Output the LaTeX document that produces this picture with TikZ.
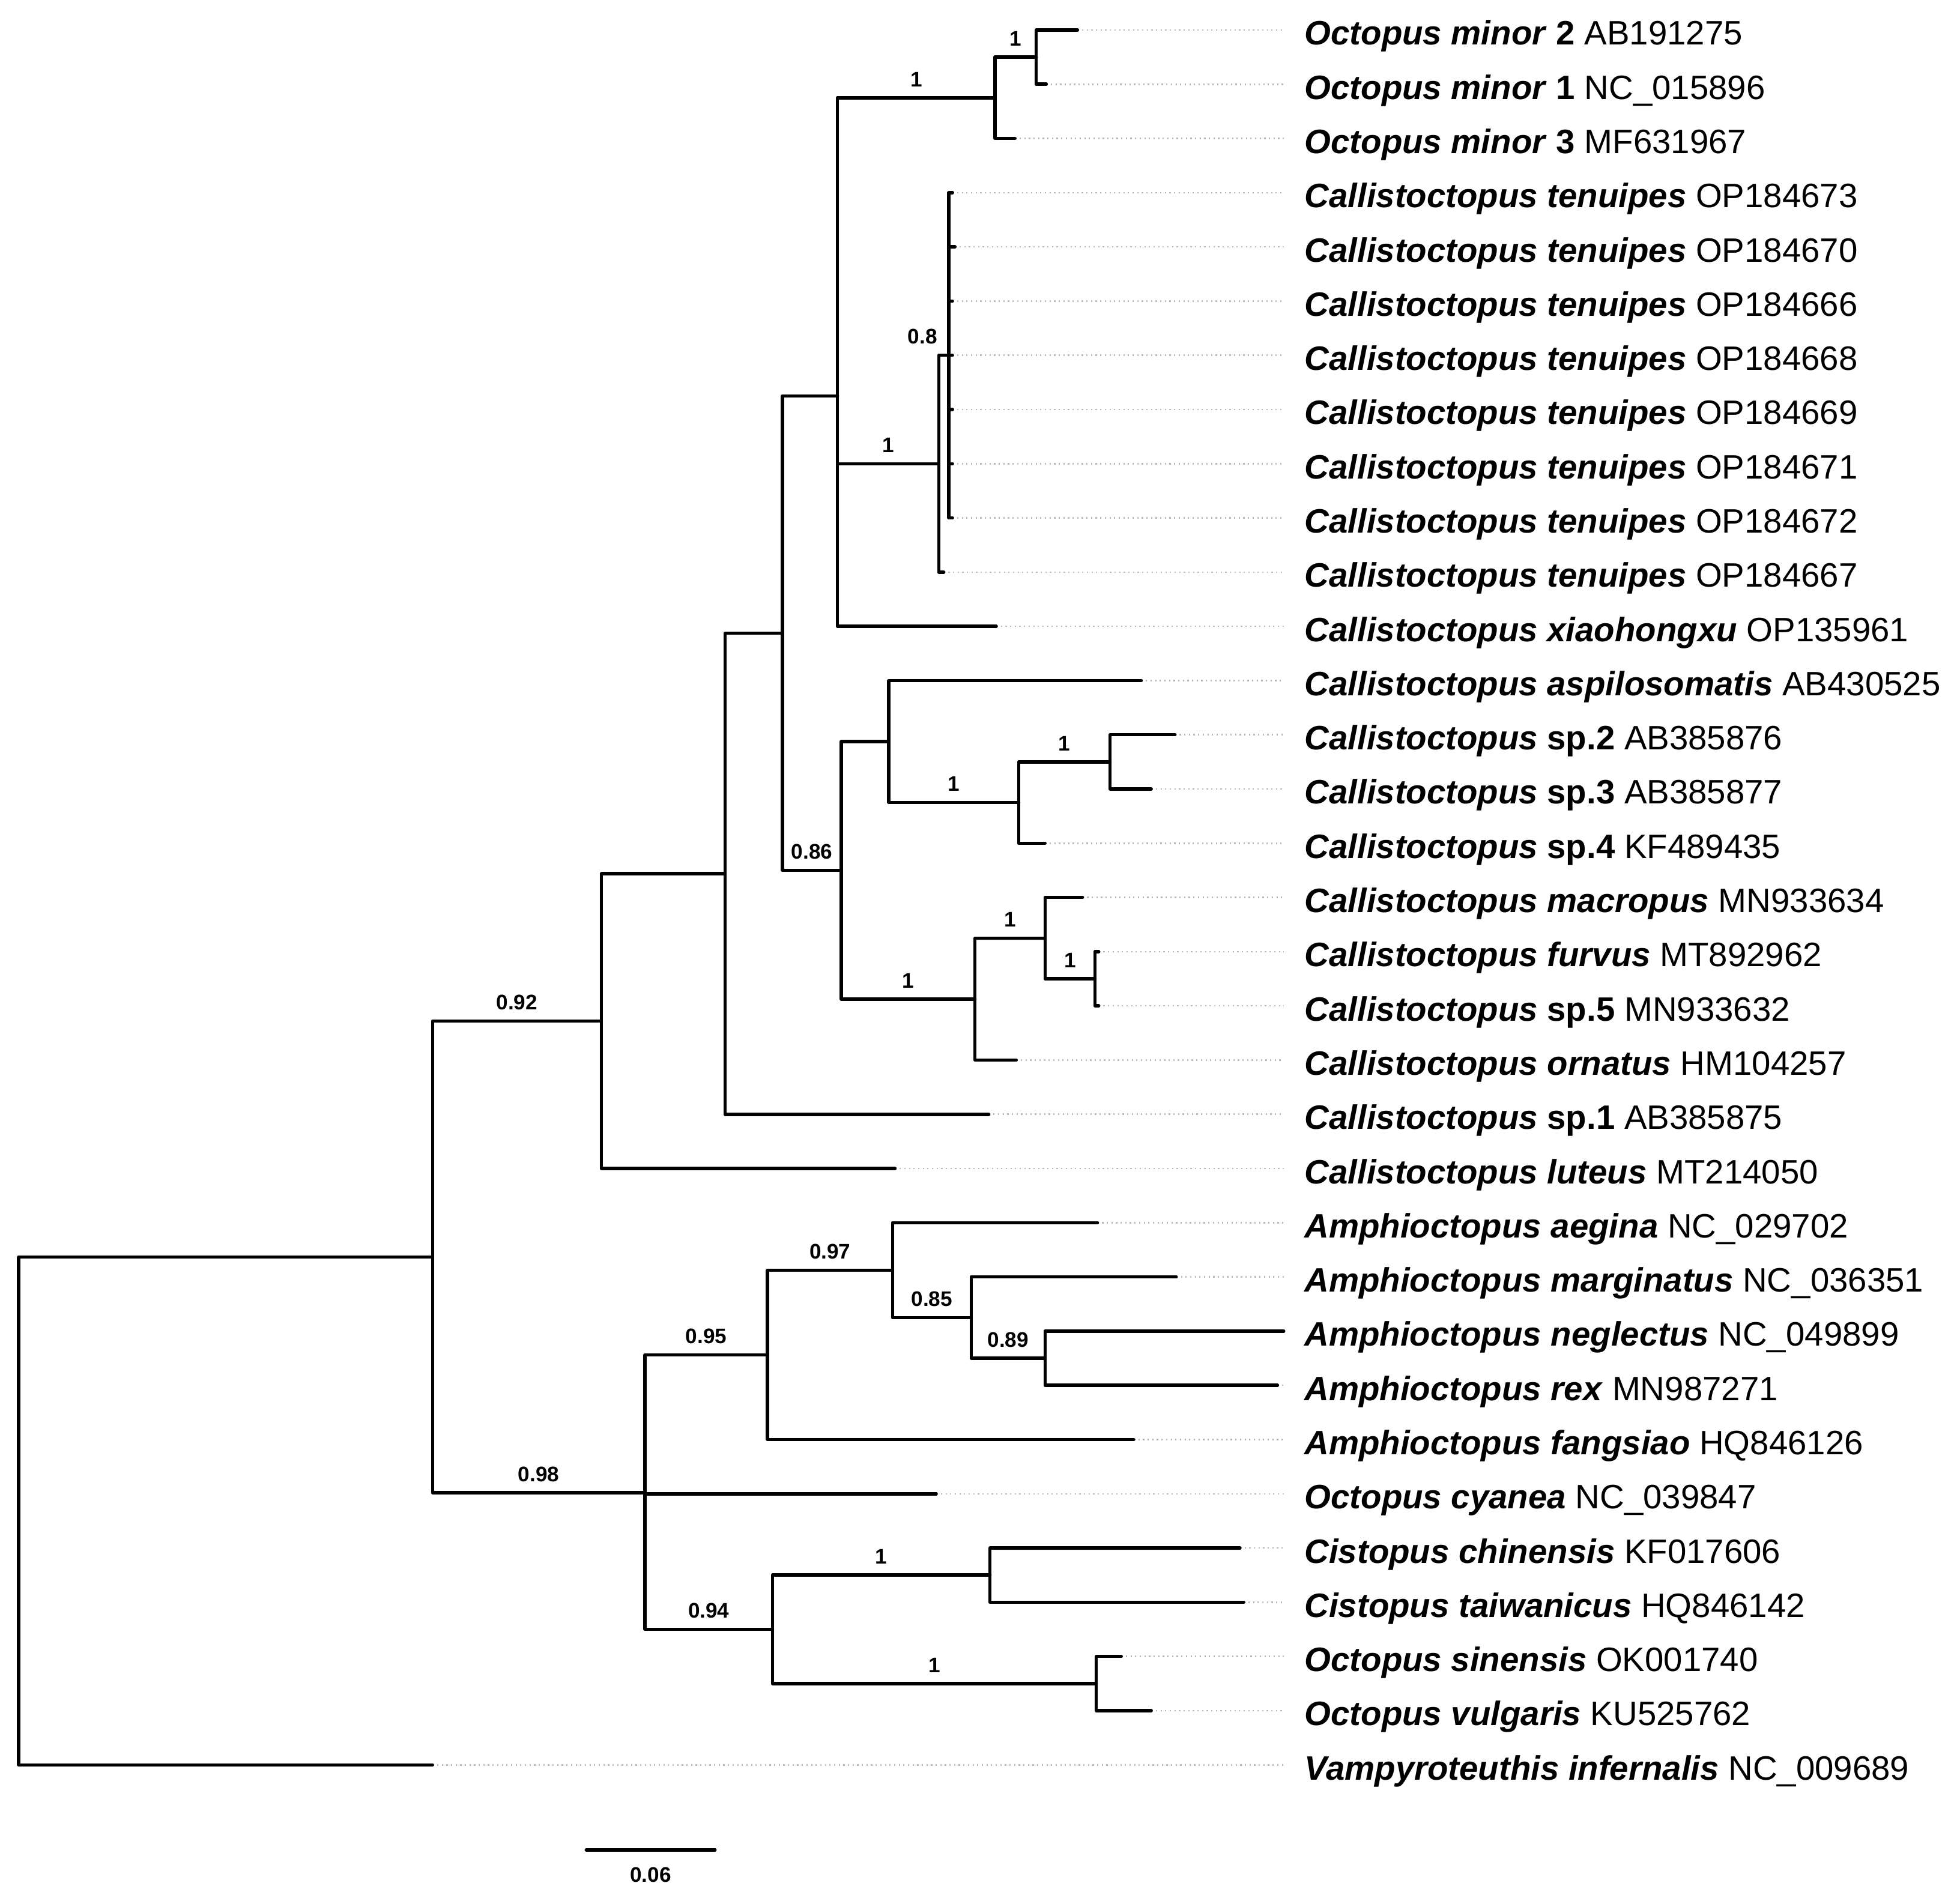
\documentclass[tikz,border=0pt]{standalone}
\usepackage{fontspec}
\setmainfont{Liberation Sans}
\newcommand{\taxon}[1]{\textbf{\textit{#1}}}

\begin{document}
\begin{tikzpicture}[x=0.01cm,y=-0.01cm,
	branch/.style={line width=0.75pt,line cap=round,line join=round},
	leader/.style={gray!55,line width=0.35pt,dash pattern=on 0.3pt off 0.75pt},
	tip/.style={anchor=base west,inner xsep=0.16cm,inner ysep=0pt,font=\fontsize{7.7}{9}\selectfont},
	sup/.style={anchor=base,inner sep=0pt,yshift=0.09cm,font=\fontsize{4.8}{5}\selectfont\bfseries},
	scalelbl/.style={anchor=base,inner sep=0pt,yshift=-0.26cm,font=\fontsize{4.8}{5}\selectfont\bfseries}]
			\useasboundingbox (0,0) rectangle (1568,1516);

			\coordinate (t1) at (862,24);
			\coordinate (t2) at (837,67.375);
			\coordinate (t3) at (812,110.75);
			\coordinate (t4) at (762,154.125);
			\coordinate (t5) at (764,197.5);
			\coordinate (t6) at (762,240.875);
			\coordinate (t7) at (762,284.25);
			\coordinate (t8) at (762,327.625);
			\coordinate (t9) at (762,371);
			\coordinate (t10) at (762,414.375);
			\coordinate (t11) at (755,457.75);
			\coordinate (t12) at (797,501.125);
			\coordinate (t13) at (913,544.5);
			\coordinate (t14) at (940,587.875);
			\coordinate (t15) at (921,631.25);
			\coordinate (t16) at (836,674.625);
			\coordinate (t17) at (866,718);
			\coordinate (t18) at (879,761.375);
			\coordinate (t19) at (879,804.75);
			\coordinate (t20) at (813,848.125);
			\coordinate (t21) at (791,891.5);
			\coordinate (t22) at (716,934.875);
			\coordinate (t23) at (878,978.25);
			\coordinate (t24) at (941,1021.625);
			\coordinate (t25) at (1027,1065);
			\coordinate (t26) at (1022,1108.375);
			\coordinate (t27) at (907,1151.75);
			\coordinate (t28) at (749,1195.125);
			\coordinate (t29) at (992,1238.5);
			\coordinate (t30) at (995,1281.875);
			\coordinate (t31) at (897,1325.25);
			\coordinate (t32) at (921,1368.625);
			\coordinate (t33) at (346,1412);

			\node[tip] (l1) at (1027,36) {\taxon{Octopus minor} \textbf{2} AB191275};
			\node[tip] (l2) at (1027,79.375) {\taxon{Octopus minor} \textbf{1} NC\_015896};
			\node[tip] (l3) at (1027,122.75) {\taxon{Octopus minor} \textbf{3} MF631967};
			\node[tip] (l4) at (1027,166.125) {\taxon{Callistoctopus tenuipes} OP184673};
			\node[tip] (l5) at (1027,209.5) {\taxon{Callistoctopus tenuipes} OP184670};
			\node[tip] (l6) at (1027,252.875) {\taxon{Callistoctopus tenuipes} OP184666};
			\node[tip] (l7) at (1027,296.25) {\taxon{Callistoctopus tenuipes} OP184668};
			\node[tip] (l8) at (1027,339.625) {\taxon{Callistoctopus tenuipes} OP184669};
			\node[tip] (l9) at (1027,383) {\taxon{Callistoctopus tenuipes} OP184671};
			\node[tip] (l10) at (1027,426.375) {\taxon{Callistoctopus tenuipes} OP184672};
			\node[tip] (l11) at (1027,469.75) {\taxon{Callistoctopus tenuipes} OP184667};
			\node[tip] (l12) at (1027,513.125) {\taxon{Callistoctopus xiaohongxu} OP135961};
			\node[tip] (l13) at (1027,556.5) {\taxon{Callistoctopus aspilosomatis} AB430525};
			\node[tip] (l14) at (1027,599.875) {\taxon{Callistoctopus} \textbf{sp.2} AB385876};
			\node[tip] (l15) at (1027,643.25) {\taxon{Callistoctopus} \textbf{sp.3} AB385877};
			\node[tip] (l16) at (1027,686.625) {\taxon{Callistoctopus} \textbf{sp.4} KF489435};
			\node[tip] (l17) at (1027,730) {\taxon{Callistoctopus macropus} MN933634};
			\node[tip] (l18) at (1027,773.375) {\taxon{Callistoctopus furvus} MT892962};
			\node[tip] (l19) at (1027,816.75) {\taxon{Callistoctopus} \textbf{sp.5} MN933632};
			\node[tip] (l20) at (1027,860.125) {\taxon{Callistoctopus ornatus} HM104257};
			\node[tip] (l21) at (1027,903.5) {\taxon{Callistoctopus} \textbf{sp.1} AB385875};
			\node[tip] (l22) at (1027,946.875) {\taxon{Callistoctopus luteus} MT214050};
			\node[tip] (l23) at (1027,990.25) {\taxon{Amphioctopus aegina} NC\_029702};
			\node[tip] (l24) at (1027,1033.625) {\taxon{Amphioctopus marginatus} NC\_036351};
			\node[tip] (l25) at (1027,1077) {\taxon{Amphioctopus neglectus} NC\_049899};
			\node[tip] (l26) at (1027,1120.375) {\taxon{Amphioctopus rex} MN987271};
			\node[tip] (l27) at (1027,1163.75) {\taxon{Amphioctopus fangsiao} HQ846126};
			\node[tip] (l28) at (1027,1207.125) {\taxon{Octopus cyanea} NC\_039847};
			\node[tip] (l29) at (1027,1250.5) {\taxon{Cistopus chinensis} KF017606};
			\node[tip] (l30) at (1027,1293.875) {\taxon{Cistopus taiwanicus} HQ846142};
			\node[tip] (l31) at (1027,1337.25) {\taxon{Octopus sinensis} OK001740};
			\node[tip] (l32) at (1027,1380.625) {\taxon{Octopus vulgaris} KU525762};
			\node[tip] (l33) at (1027,1424) {\taxon{Vampyroteuthis infernalis} NC\_009689};

			\foreach \i in {1,...,33}
				\draw[leader] (t\i) -- (t\i -| l\i.west);

			\coordinate (root) at (15,1208.8);
			\coordinate (A) at (346,1005.59);
			\coordinate (B) at (481,816.95);
			\coordinate (C) at (580,699.02);
			\coordinate (D) at (626,506.55);
			\coordinate (E) at (670,316.78);
			\coordinate (F) at (796,78.22);
			\coordinate (G) at (829,45.69);
			\coordinate (H) at (751,371);
			\coordinate (I) at (759,284.25);
			\coordinate (J) at (673,696.31);
			\coordinate (K) at (711,593.3);
			\coordinate (M) at (815,642.09);
			\coordinate (N) at (888,609.56);
			\coordinate (L) at (780,799.33);
			\coordinate (O) at (836,750.53);
			\coordinate (P) at (876,783.06);
			\coordinate (Q) at (516,1194.22);
			\coordinate (R) at (614,1083.98);
			\coordinate (S) at (714,1016.2);
			\coordinate (T) at (777,1054.16);
			\coordinate (U) at (836,1086.69);
			\coordinate (V) at (618,1303.56);
			\coordinate (W) at (792,1260.19);
			\coordinate (X) at (877,1346.94);

			\draw[branch] (root) |- (A);
			\draw[branch] (root) |- (t33);
			\draw[branch] (A) |- node[sup,pos=0.75] {0.92} (B);
			\draw[branch] (A) |- node[sup,pos=0.75] {0.98} (Q);
			\draw[branch] (B) |- (C);
			\draw[branch] (B) |- (t22);
			\draw[branch] (C) |- (D);
			\draw[branch] (C) |- (t21);
			\draw[branch] (D) |- (E);
			\draw[branch] (D) |- node[sup,pos=0.75] {0.86} (J);
			\draw[branch] (E) |- node[sup,pos=0.75] {1} (F);
			\draw[branch] (E) |- node[sup,pos=0.75] {1} (H);
			\draw[branch] (E) |- (t12);
			\draw[branch] (F) |- node[sup,pos=0.75] {1} (G);
			\draw[branch] (F) |- (t3);
			\draw[branch] (G) |- (t1);
			\draw[branch] (G) |- (t2);
			\draw[branch] (H) |- node[sup,pos=0.5,anchor=base east] {0.8} (I);
			\draw[branch] (H) |- (t11);
			\draw[branch] (I) |- (t4);
			\draw[branch] (I) |- (t5);
			\draw[branch] (I) |- (t6);
			\draw[branch] (I) |- (t7);
			\draw[branch] (I) |- (t8);
			\draw[branch] (I) |- (t9);
			\draw[branch] (I) |- (t10);
			\draw[branch] (J) |- (K);
			\draw[branch] (J) |- node[sup,pos=0.75] {1} (L);
			\draw[branch] (K) |- (t13);
			\draw[branch] (K) |- node[sup,pos=0.75] {1} (M);
			\draw[branch] (M) |- node[sup,pos=0.75] {1} (N);
			\draw[branch] (M) |- (t16);
			\draw[branch] (N) |- (t14);
			\draw[branch] (N) |- (t15);
			\draw[branch] (L) |- node[sup,pos=0.75] {1} (O);
			\draw[branch] (L) |- (t20);
			\draw[branch] (O) |- (t17);
			\draw[branch] (O) |- node[sup,pos=0.75] {1} (P);
			\draw[branch] (P) |- (t18);
			\draw[branch] (P) |- (t19);
			\draw[branch] (Q) |- node[sup,pos=0.75] {0.95} (R);
			\draw[branch] (Q) |- (t28);
			\draw[branch] (Q) |- node[sup,pos=0.75] {0.94} (V);
			\draw[branch] (R) |- node[sup,pos=0.75] {0.97} (S);
			\draw[branch] (R) |- (t27);
			\draw[branch] (S) |- (t23);
			\draw[branch] (S) |- node[sup,pos=0.75] {0.85} (T);
			\draw[branch] (T) |- (t24);
			\draw[branch] (T) |- node[sup,pos=0.75] {0.89} (U);
			\draw[branch] (U) |- (t25);
			\draw[branch] (U) |- (t26);
			\draw[branch] (V) |- node[sup,pos=0.75] {1} (W);
			\draw[branch] (V) |- node[sup,pos=0.75] {1} (X);
			\draw[branch] (W) |- (t29);
			\draw[branch] (W) |- (t30);
			\draw[branch] (X) |- (t31);
			\draw[branch] (X) |- (t32);

			\coordinate (s1) at (469,1480);
			\coordinate (s2) at (572,1480);
			\draw[branch] (s1) -- node[scalelbl] {0.06} (s2);
		\end{tikzpicture}
\end{document}
